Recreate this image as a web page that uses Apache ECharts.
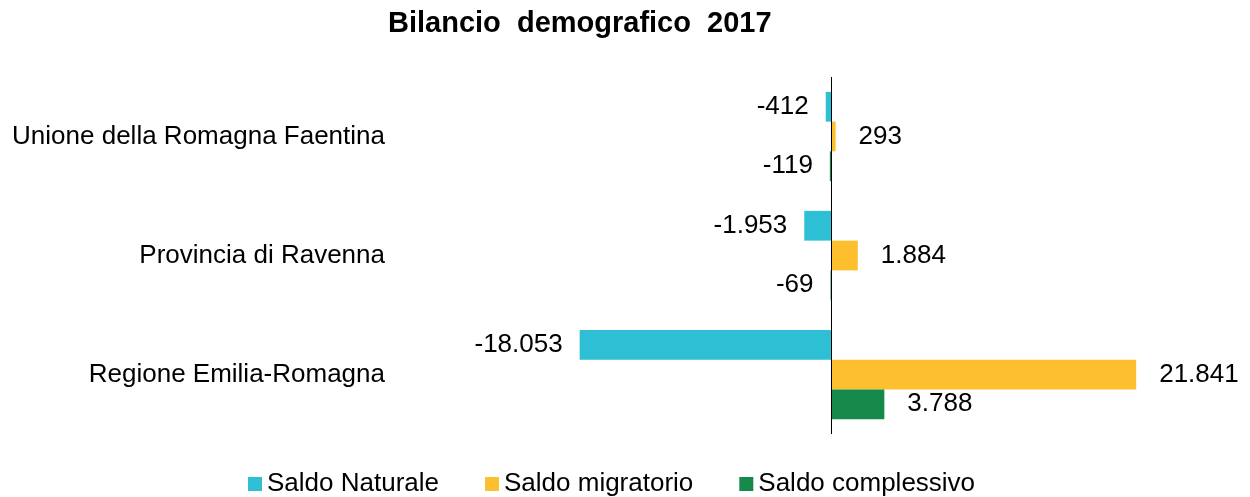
<!DOCTYPE html>
<html>
<head>
<meta charset="utf-8">
<script src="https://cdn.jsdelivr.net/npm/echarts@6/dist/echarts.min.js"></script>
<style>
html,body{margin:0;padding:0;background:#fff;}
#chart{width:1250px;height:497px;}
</style>
</head>
<body>
<div id="chart"></div>
<script>
const titleText = 'Bilancio  demografico  2017';
const categories = ['Unione della Romagna Faentina', 'Provincia di Ravenna', 'Regione Emilia-Romagna'];
const seriesNames = ['Saldo Naturale', 'Saldo migratorio', 'Saldo complessivo'];
const saldoNaturale = [-412, -1953, -18053];
const saldoMigratorio = [293, 1884, 21841];
const saldoComplessivo = [-119, -69, 3788];

const colors = ['#2ebfd4', '#fdbf2d', '#15894a'];
const FONT = '"Liberation Sans", Arial, sans-serif';

function fmt(v) {
  const s = Math.abs(v).toString().replace(/\B(?=(\d{3})+(?!\d))/g, '.');
  return (v < 0 ? '-' : '') + s;
}

function mkData(arr) {
  return arr.map(v => ({
    value: v,
    label: { position: v < 0 ? 'left' : 'right', distance: v < 0 ? 17 : 23 }
  }));
}

const seriesValues = [saldoNaturale, saldoMigratorio, saldoComplessivo];

const series = seriesValues.map((vals, i) => {
  const s = {
    name: seriesNames[i],
    type: 'bar',
    data: mkData(vals),
    barGap: '0%',
    barCategoryGap: '25%',
    itemStyle: { color: colors[i] },
    label: {
      show: true,
      color: '#000',
      fontFamily: FONT,
      fontSize: 26,
      formatter: p => fmt(p.value)
    },
    animation: false
  };
  if (i === 0) {
    s.markLine = {
      silent: true,
      symbol: ['none', 'none'],
      label: { show: false },
      lineStyle: { color: '#000', width: 1, type: 'solid' },
      data: [{ xAxis: 0 }],
      animation: false
    };
  }
  return s;
});

const chart = echarts.init(document.getElementById('chart'));
chart.setOption({
  backgroundColor: '#fff',
  animation: false,
  title: {
    text: titleText,
    left: 383,
    top: 4,
    textStyle: { fontFamily: FONT, fontSize: 29, fontWeight: 'bold', color: '#000' }
  },
  legend: {
    left: 243,
    top: 466,
    icon: 'rect',
    itemWidth: 14,
    itemHeight: 14,
    itemGap: 46,
    textStyle: { fontFamily: FONT, fontSize: 26, color: '#000' },
    data: seriesNames
  },
  grid: { left: 413, top: 77, width: 838, height: 357, containLabel: false },
  xAxis: {
    type: 'value',
    min: -30000,
    max: 30000,
    show: false
  },
  yAxis: {
    type: 'category',
    inverse: true,
    data: categories,
    axisLine: { show: false },
    axisTick: { show: false },
    axisLabel: { margin: 28, fontFamily: FONT, fontSize: 26, color: '#000' }
  },
  series: series
});
</script>
</body>
</html>
